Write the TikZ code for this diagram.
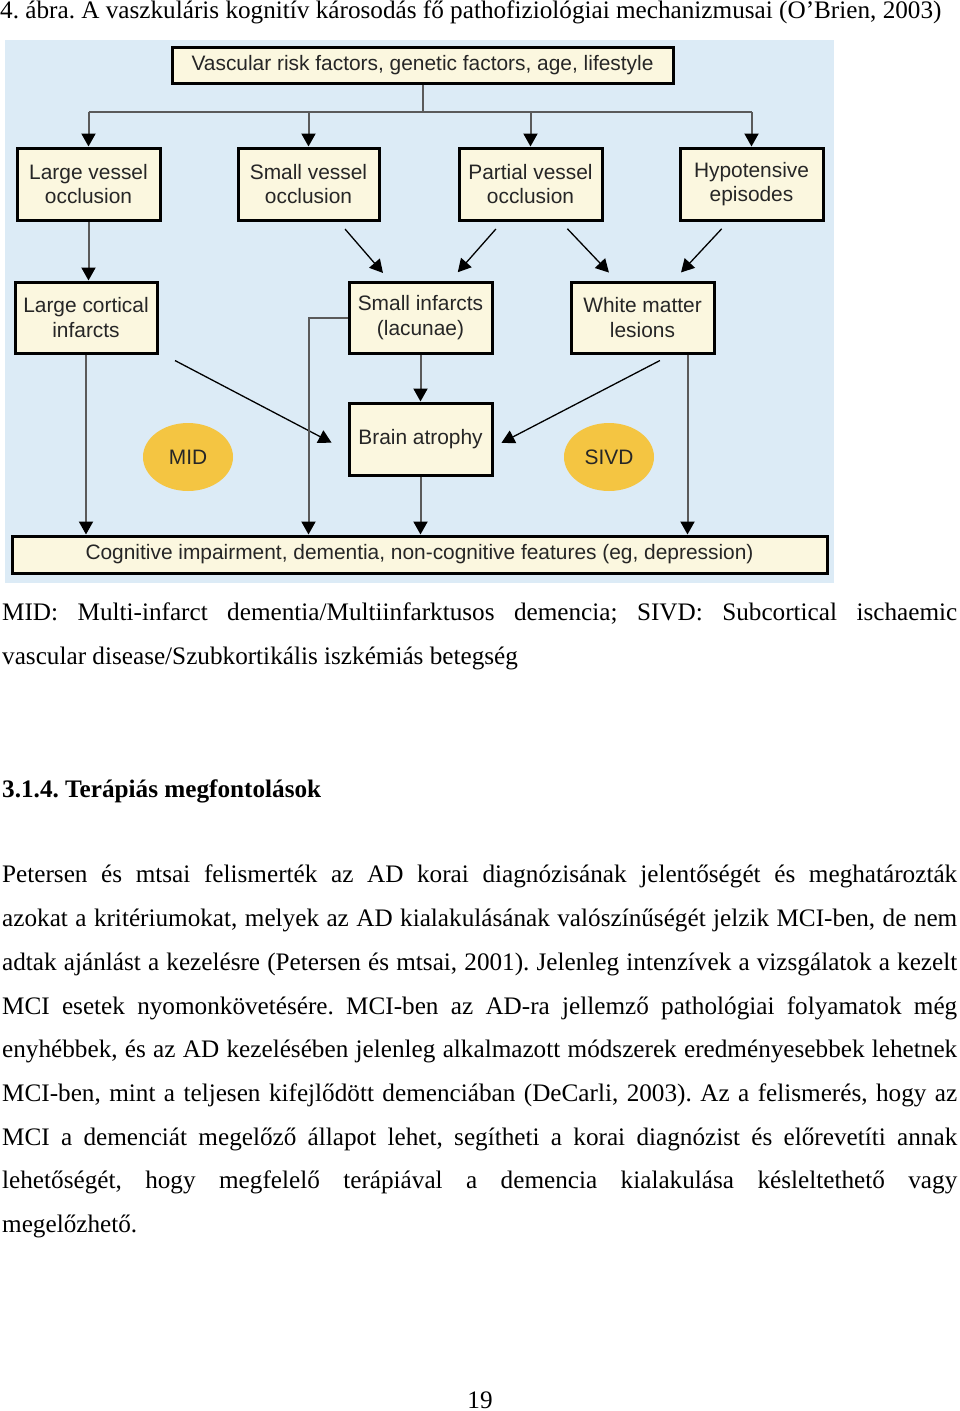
\documentclass[tikz,border=0pt]{standalone}
\usepackage{fontspec}
\setmainfont{Liberation Serif}
\setsansfont{Liberation Sans}
\usetikzlibrary{arrows.meta,calc,shapes.geometric}
\definecolor{bgblue}{HTML}{DCEBF6}
\definecolor{boxcream}{HTML}{FBF7DF}
\definecolor{ovalgold}{HTML}{F4C542}
\definecolor{linegray}{HTML}{5A5A5A}
\definecolor{textdark}{HTML}{262626}
\newcommand{\bodyfont}{\fontsize{25.2}{25.2}\selectfont}
\newcommand{\diagfont}{\fontsize{20.9}{24.5}\selectfont\sffamily}
\frenchspacing
\tikzset{
  causebox/.style={draw, line width=3pt, fill=boxcream, text=textdark,
    font=\diagfont, align=center, inner sep=0pt,
    minimum width=143pt, minimum height=72pt},
  wideline/.style={draw, line width=3pt, fill=boxcream, text=textdark,
    font=\diagfont, inner sep=0pt, minimum height=36pt},
  oval/.style={ellipse, fill=ovalgold, text=textdark, font=\diagfont,
    minimum width=90pt, minimum height=68pt, inner sep=0pt},
  down/.style={->, draw=linegray, line width=2pt},
  diag/.style={->, line width=1.3pt},
  txtline/.style={anchor=base west, inner sep=0pt, font=\bodyfont},
}
\begin{document}
\begin{tikzpicture}[x=1pt,y=-1pt,>={Triangle[length=13pt,width=14pt,color=black]}]
	\useasboundingbox (0,0) rectangle (960,1411);
	% Felirat
	\node [txtline] (cap) at (0,18) {4. ábra. A vaszkuláris kognitív károsodás fő pathofiziológiai mechanizmusai (O’Brien, 2003)};
	% Hatter
	\fill [bgblue] (5,40) rectangle (834,583);
	% Dobozok
	\node [wideline, minimum width=501pt] (risk) at (422.5,65) {Vascular risk factors, genetic factors, age, lifestyle};
	\node [causebox] (lvo) at (88.5,184) {Large vessel\\occlusion};
	\node [causebox, minimum width=141pt] (svo) at (308.5,184) {Small vessel\\occlusion};
	\node [causebox] (pvo) at (530.5,184) {Partial vessel\\occlusion};
	\node [causebox] (hypo) at (751.5,184) {Hypotensive\\episodes};
	\node [causebox, minimum width=142pt, minimum height=71pt] (lci) at (86,317.5) {Large cortical\\infarcts};
	\node [causebox, minimum height=71pt] (sinf) at (420.5,317.5) {Small infarcts\\(lacunae)};
	\node [causebox, minimum height=71pt] (wml) at (642.5,317.5) {White matter\\lesions};
	\node [causebox] (atrophy) at (420.5,439) {Brain atrophy};
	\node [wideline, minimum width=815pt, minimum height=37pt] (cog) at (419.5,554.5) {Cognitive impairment, dementia, non-cognitive features (eg, depression)};
	\node [oval] (mid) at (188,457) {MID};
	\node [oval] (sivd) at (609,457) {SIVD};
	% Elagazas felul
	\coordinate (bus) at (420,112);
	\draw [draw=linegray, line width=2pt] (risk.south) -- (risk.south |- bus);
	\draw [draw=linegray, line width=2pt] (lvo.north |- bus) -- (hypo.north |- bus);
	\draw [down] (lvo.north |- bus) -- (lvo.north);
	\draw [down] (svo.north |- bus) -- (svo.north);
	\draw [down] (pvo.north |- bus) -- (pvo.north);
	\draw [down] (hypo.north |- bus) -- (hypo.north);
	% Ferde nyilak
	\draw [diag, shorten <=10pt, shorten >=10pt] ($(svo.south)+(30,0)$) -- ($(sinf.north)+(-31,0)$);
	\draw [diag, shorten <=10pt, shorten >=11pt] ($(pvo.south)+(-28,0)$) -- ($(sinf.north)+(30,0)$);
	\draw [diag, shorten <=10pt, shorten >=11pt] ($(pvo.south)+(30,0)$) -- ($(wml.north)+(-26,0)$);
	\draw [diag, shorten <=10pt, shorten >=11pt] ($(hypo.south)+(-23,0)$) -- ($(wml.north)+(31,0)$);
	\draw [diag, shorten <=13pt, shorten >=18pt] ($(lci.south east)+(5,0)$) -- ($(atrophy.west)+(0,12)$);
	\draw [diag, shorten <=13pt, shorten >=9pt] ($(wml.south)+(29,0)$) -- ($(atrophy.east)+(0,8)$);
	% Fuggoleges nyilak
	\coordinate (wmlout) at ($(wml.south)+(45,0)$);
	\draw [down] (lvo.south) -- (lvo.south |- lci.north);
	\draw [down] (lci.south) -- (lci.south |- cog.north);
	\draw [down] (sinf.west) -| (svo.south |- cog.north);
	\draw [down] (sinf.south) -- (atrophy.north);
	\draw [down] (atrophy.south) -- (atrophy.south |- cog.north);
	\draw [down] (wmlout) -- (wmlout |- cog.north);
	% Szoveg
	\node [txtline] (leg1) at (2,620) {\makebox[955pt][s]{MID: Multi-infarct dementia/Multiinfarktusos demencia; SIVD: Subcortical ischaemic}};
	\node [txtline] (leg2) at (2,664) {vascular disease/Szubkortikális iszkémiás betegség};
	\node [txtline, font=\bodyfont\bfseries] (head) at (2,797) {3.1.4. Terápiás megfontolások};
	\node [txtline] (p1) at (2,882) {\makebox[955pt][s]{Petersen és mtsai felismerték az AD korai diagnózisának jelentőségét és meghatározták}};
	\node [txtline] (p2) at (2,926) {\makebox[955pt][s]{azokat a kritériumokat, melyek az AD kialakulásának valószínűségét jelzik MCI-ben, de nem}};
	\node [txtline] (p3) at (2,970) {\makebox[955pt][s]{adtak ajánlást a kezelésre (Petersen és mtsai, 2001). Jelenleg intenzívek a vizsgálatok a kezelt}};
	\node [txtline] (p4) at (2,1014) {\makebox[955pt][s]{MCI esetek nyomonkövetésére. MCI-ben az AD-ra jellemző pathológiai folyamatok még}};
	\node [txtline] (p5) at (2,1057) {\makebox[955pt][s]{enyhébbek, és az AD kezelésében jelenleg alkalmazott módszerek eredményesebbek lehetnek}};
	\node [txtline] (p6) at (2,1101) {\makebox[955pt][s]{MCI-ben, mint a teljesen kifejlődött demenciában (DeCarli, 2003). Az a felismerés, hogy az}};
	\node [txtline] (p7) at (2,1145) {\makebox[955pt][s]{MCI a demenciát megelőző állapot lehet, segítheti a korai diagnózist és előrevetíti annak}};
	\node [txtline] (p8) at (2,1188) {\makebox[955pt][s]{lehetőségét, hogy megfelelő terápiával a demencia kialakulása késleltethető vagy}};
	\node [txtline] (p9) at (2,1232) {megelőzhető.};
	\node [anchor=base, inner sep=0pt, font=\bodyfont] (pnum) at (480,1408) {19};
\end{tikzpicture}
\end{document}
